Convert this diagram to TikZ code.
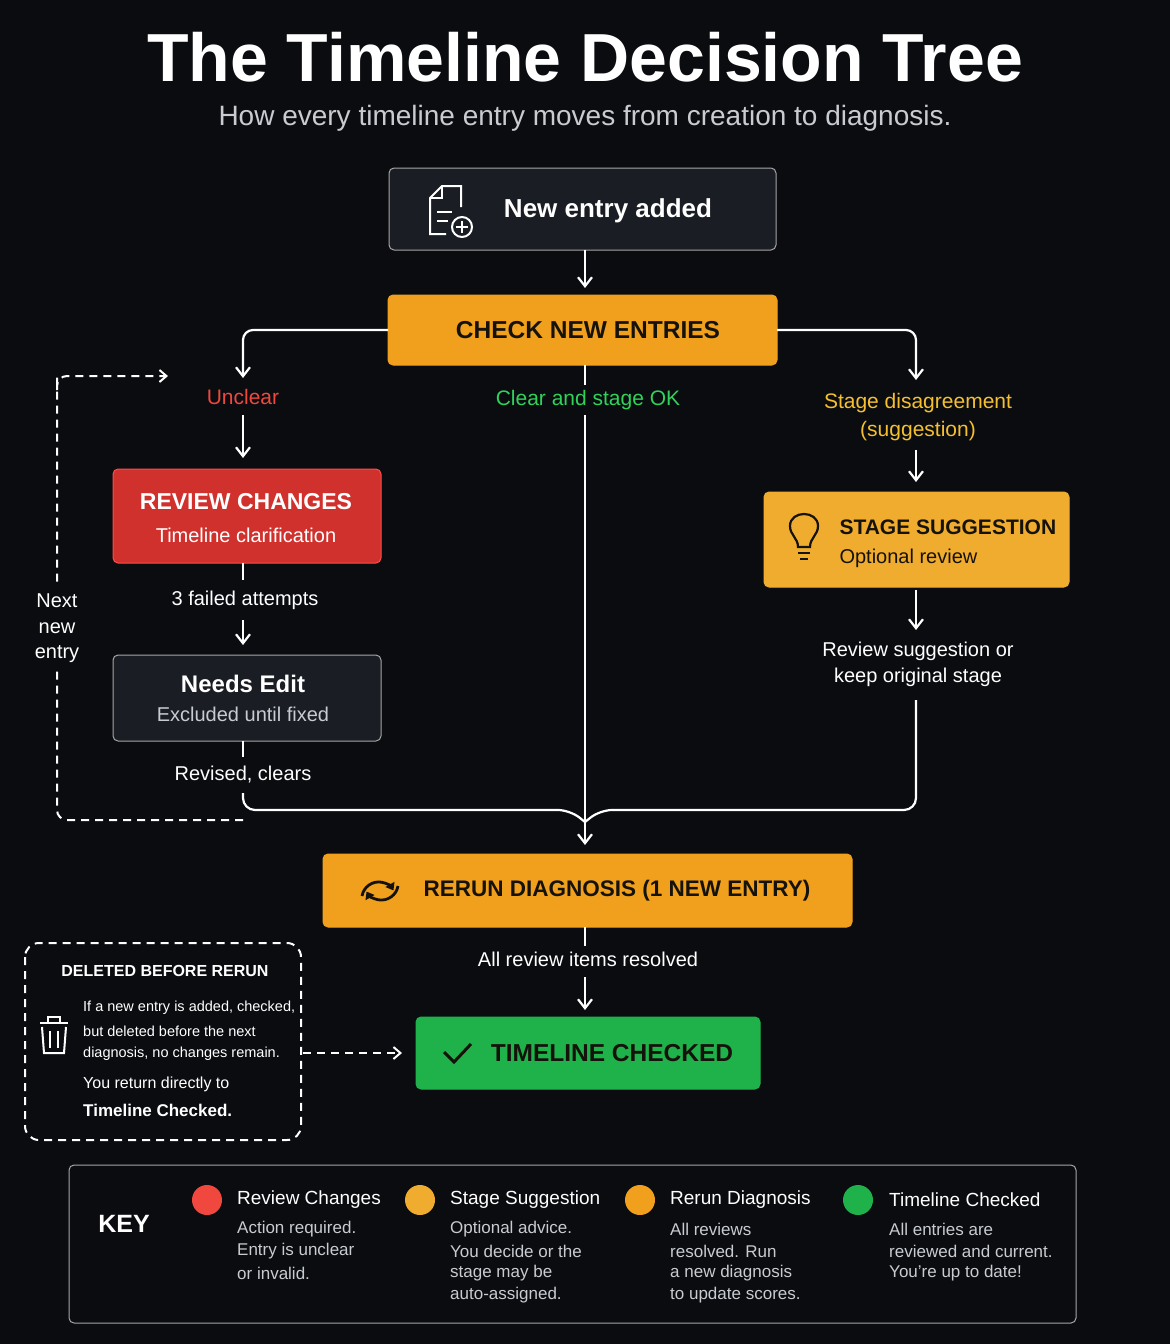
\documentclass[tikz,border=0pt]{standalone}
\usepackage{fontspec}
\setmainfont{Liberation Sans}
\usetikzlibrary{arrows.meta}
\definecolor{bg}{HTML}{0A0C10}
\definecolor{darkbox}{HTML}{1A1D23}
\definecolor{orng}{HTML}{F0A01C}
\definecolor{yel}{HTML}{F0AC2E}
\definecolor{redb}{HTML}{D0312D}
\definecolor{grn}{HTML}{1FB14A}
\definecolor{txtdark}{HTML}{15120C}
\definecolor{unclr}{HTML}{F0483E}
\definecolor{clr}{HTML}{2FD35A}
\definecolor{yeltxt}{HTML}{F5C030}
\definecolor{gry}{HTML}{C8CBD0}
\newcommand{\fs}[1]{\fontsize{#1}{#1}\selectfont}
\tikzset{
 box/.style={draw, rounded corners=5pt, line width=1pt},
 ln/.style={white, line width=2.2pt},
 arr/.style={ln, -{Straight Barb[length=9pt,width=14pt]}},
 dsh/.style={white, line width=2pt, dash pattern=on 8pt off 6pt},
}
\begin{document}
\begin{tikzpicture}[x=1pt,y=-1pt]
\fill[bg] (0,0) rectangle (1170,1344);
\useasboundingbox (0,0) rectangle (1170,1344);
\node (title) at (585,57) {\color{white}\bfseries\fs{68}The Timeline Decision Tree};
\node (sub) at (585,118) {\color{gry}\fs{28}How every timeline entry moves from creation to diagnosis.};

% New entry
\draw[box, draw=gray!70, fill=darkbox] (389,168) rectangle (776,250);
\node at (608,211) {\color{white}\bfseries\fs{26}New entry added};
\begin{scope}[white, line width=2pt]
 \draw (461,207) -- (461,186) -- (442,186) -- (430,198) -- (430,234) -- (446,234);
 \draw (442,186) -- (442,198) -- (430,198);
 \draw (437,212) -- (452,212) (437,221) -- (448,221);
 \draw (462,227) circle (10);
 \draw (456,227) -- (468,227) (462,221) -- (462,233);
\end{scope}
\coordinate (newb) at (585,250);

% Check
\draw[box, draw=orng, fill=orng] (388,295) rectangle (777,365);
\node (check) at (588,330) {\color{txtdark}\bfseries\fs{24.5}CHECK NEW ENTRIES};
\draw[arr] (newb) -- (585,288);

\draw[arr, rounded corners=10pt] (388,330) -- (243,330) -- (243,378);
\draw[arr, rounded corners=10pt] (777,330) -- (916,330) -- (916,380);

\node (unclear) at (243,397) {\color{unclr}\fs{21}Unclear};
\draw[arr] (243,415) -- (243,458);
\node (clear) at (588,400) {\color{clr}\fs{21}Clear and stage OK};
\node (dis) at (918,403) {\color{yeltxt}\fs{21}Stage disagreement};
\node (dis2) at (918,431) {\color{yeltxt}\fs{21}(suggestion)};
\draw[arr] (916,450) -- (916,482);

% Review changes
\draw[box, draw=red!70!white, fill=redb] (113,469) rectangle (381,563);
\node (rev) at (246,502) {\color{white}\bfseries\fs{23}REVIEW CHANGES};
\node at (246,535) {\color{white}\fs{20}Timeline clarification};
\draw[ln] (243,563) -- (243,580);
\node (failed) at (245,600) {\color{white}\fs{20}3 failed attempts};
\draw[arr] (243,620) -- (243,645);

% Needs edit
\draw[box, draw=gray!70, fill=darkbox] (113,655) rectangle (381,741);
\node (needs) at (243,684) {\color{white}\bfseries\fs{24}Needs Edit};
\node at (243,714) {\color{gry}\fs{20}Excluded until fixed};
\draw[ln] (243,741) -- (243,757);
\node (revised) at (243,775) {\color{white}\fs{20}Revised, clears};

% Stage suggestion
\draw[box, draw=yel, fill=yel] (764,492) rectangle (1069,587);
\node[anchor=west] (stage) at (836,527) {\color{txtdark}\bfseries\fs{21}STAGE SUGGESTION};
\node[anchor=west] at (836,558) {\color{txtdark}\fs{20}Optional review};
\begin{scope}[txtdark, line width=2.2pt]
 \draw (798,547) .. controls (798,538) and (790,535) .. (790,526) .. controls (790,510) and (818,510) .. (818,526) .. controls (818,535) and (810,538) .. (810,547) -- cycle;
 \draw (798,553) -- (810,553) (800,559) -- (808,559);
\end{scope}
\draw[arr] (916,590) -- (916,630);
\node (revsug) at (918,651) {\color{white}\fs{20}Review suggestion or};
\node (revsug2) at (918,677) {\color{white}\fs{20}keep original stage};

% merge lines
\draw[ln] (585,365) -- (585,385);
\draw[ln, rounded corners=12pt] (243,793) -- (243,810) -- (570,810) -- (585,822);
\draw[ln, rounded corners=12pt] (916,700) -- (916,810) -- (600,810) -- (585,822);
\draw[arr] (585,415) -- (585,845);

% dashed loop
\draw[dsh, rounded corners=10pt] (243,820) -- (57,820) -- (57,376);
\draw[dsh, -{Straight Barb[length=7pt,width=12pt]}, rounded corners=10pt] (57,390) -- (57,376) -- (168,376);
\fill[bg] (30,585) rectangle (85,670);
\node (next1) at (57,601) {\color{white}\fs{20}Next};
\node (next2) at (57,628) {\color{white}\fs{20}new};
\node (next3) at (57,654) {\color{white}\fs{20}entry};

% Rerun
\draw[box, draw=orng, fill=orng] (323,854) rectangle (852,927);
\node (rerun) at (617,891) {\color{txtdark}\bfseries\fs{22.5}RERUN DIAGNOSIS (1 NEW ENTRY)};
\begin{scope}[txtdark, line width=2.8pt]
 \draw[-{Triangle[length=7pt,width=10pt]}] (398,886) arc (10:150:17);
 \draw[-{Triangle[length=7pt,width=10pt]}] (362,896) arc (190:330:17);
\end{scope}
\draw[ln] (585,927) -- (585,946);
\node (allrev) at (588,959) {\color{white}\fs{20}All review items resolved};
\draw[arr] (585,977) -- (585,1010);

% Timeline checked
\draw[box, draw=grn, fill=grn] (416,1017) rectangle (760,1089);
\node (tc) at (612,1053) {\color{txtdark}\bfseries\fs{24.5}TIMELINE CHECKED};
\draw[txtdark, line width=3pt] (444,1052) -- (454,1062) -- (471,1044);

% Deleted box
\draw[dsh, rounded corners=14pt] (25,943) rectangle (301,1140);
\node (del) at (165,971) {\color{white}\bfseries\fs{16}DELETED BEFORE RERUN};
\begin{scope}[white, line width=2pt]
 \draw (40,1023) -- (68,1023) (48,1023) -- (48,1017) -- (60,1017) -- (60,1023);
 \draw (42,1027) -- (44,1053) -- (64,1053) -- (66,1027);
 \draw (50,1031) -- (50,1048) (58,1031) -- (58,1048);
\end{scope}
\begin{scope}[every node/.style={anchor=west, inner sep=0pt}]
 \node at (83,1008) {\color{white}\fs{14.5}If a new entry is added, checked,};
 \node at (83,1031) {\color{white}\fs{14.5}but deleted before the next};
 \node at (83,1054) {\color{white}\fs{14.5}diagnosis, no changes remain.};
 \node at (83,1084) {\color{white}\fs{16}You return directly to};
 \node at (83,1110) {\color{white}\bfseries\fs{17}Timeline Checked.};
\end{scope}
\draw[dsh, -{Straight Barb[length=7pt,width=12pt]}] (303,1053) -- (402,1053);

% Key
\draw[box, draw=gray!70] (69,1165) rectangle (1076,1323);
\node (key) at (124,1224) {\color{white}\bfseries\fs{25}KEY};
\fill[unclr] (207,1200) circle (15);
\fill[yel] (420,1200) circle (15);
\fill[orng] (640,1200) circle (15);
\fill[grn] (858,1200) circle (15);
\begin{scope}[every node/.style={anchor=west, inner sep=0pt}]
 \node at (237,1200) {\color{white}\fs{19}Review Changes};
 \node at (450,1200) {\color{white}\fs{19}Stage Suggestion};
 \node at (670,1200) {\color{white}\fs{19}Rerun Diagnosis};
 \node at (889,1200) {\color{white}\fs{19}Timeline Checked};
 \node at (237,1229) {\color{gry}\fs{17}Action required.};
 \node at (237,1251) {\color{gry}\fs{17}Entry is unclear};
 \node at (237,1273) {\color{gry}\fs{17}or invalid.};
 \node at (450,1229) {\color{gry}\fs{17}Optional advice.};
 \node at (450,1251) {\color{gry}\fs{17}You decide or the};
 \node at (450,1273) {\color{gry}\fs{17}stage may be};
 \node at (450,1295) {\color{gry}\fs{17}auto-assigned.};
 \node at (670,1229) {\color{gry}\fs{17}All reviews};
 \node at (670,1251) {\color{gry}\fs{17}resolved. Run};
 \node at (670,1273) {\color{gry}\fs{17}a new diagnosis};
 \node at (670,1295) {\color{gry}\fs{17}to update scores.};
 \node at (889,1229) {\color{gry}\fs{17}All entries are};
 \node at (889,1251) {\color{gry}\fs{17}reviewed and current.};
 \node at (889,1273) {\color{gry}\fs{17}You're up to date!};
\end{scope}
\end{tikzpicture}
\end{document}
